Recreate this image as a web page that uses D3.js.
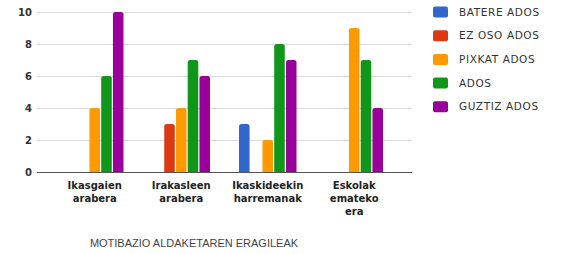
<!DOCTYPE html>
<html><head><meta charset="utf-8">
<script src="https://cdn.jsdelivr.net/npm/d3@7"></script>
<style>
html,body{margin:0;padding:0;background:#fff;}
svg{display:block;}
</style></head>
<body>
<svg id="chart" width="570" height="254"></svg>
<script>
const categories = ["Ikasgaien arabera", "Irakasleen arabera", "Ikaskideekin harremanak", "Eskolak ematekoera"];
const tickLabelLines = [["Ikasgaien","arabera"],["Irakasleen","arabera"],["Ikaskideekin","harremanak"],["Eskolak","emateko","era"]];
const seriesNames = ["BATERE ADOS","EZ OSO ADOS","PIXKAT ADOS","ADOS","GUZTIZ ADOS"];
const seriesColors = ["#3366cc","#dc3912","#ff9900","#109618","#990099"];
const bateREAdos = [0,0,3,0];
const ezOsoAdos = [0,3,0,0];
const pixkatAdos = [4,4,2,9];
const ados = [6,7,8,7];
const guztizAdos = [10,6,7,4];
const seriesValues = [bateREAdos, ezOsoAdos, pixkatAdos, ados, guztizAdos];
const yTicks = [0,2,4,6,8,10];
const axisTitle = "MOTIBAZIO ALDAKETAREN ERAGILEAK";

const comic = "'DejaVu Sans',sans-serif";
const svg = d3.select("#chart");
const plotL = 37, plotR = 412, plotT = 12, plotB = 172;

const y = d3.scaleLinear().domain([0,10]).range([plotB, plotT]);
const x0 = d3.scaleBand().domain(categories).range([51.5, 397.5]).padding(0);
const x1 = d3.scaleBand().domain(seriesNames).range([14.5, 72]).paddingInner(0.1).paddingOuter(0);

svg.append("g").selectAll("line").data(yTicks.filter(d=>d>0)).join("line")
  .attr("x1", plotL).attr("x2", plotR)
  .attr("y1", d=>y(d)+0.5).attr("y2", d=>y(d)+0.5)
  .attr("stroke", "#d9d9d9").attr("stroke-width", 1);

svg.append("g").selectAll("text").data(yTicks).join("text")
  .attr("x", 32).attr("y", d=>y(d)).attr("dy","0.35em")
  .attr("text-anchor","end")
  .style("font-family","'DejaVu Sans',sans-serif").style("font-weight","bold")
  .style("font-size","10px").attr("fill","#333")
  .text(d=>d);

function barPath(xp, w, yTop, yBot, r){
  r = Math.min(r, (yBot-yTop), w/2);
  return `M${xp},${yBot}V${yTop+r}Q${xp},${yTop} ${xp+r},${yTop}H${xp+w-r}Q${xp+w},${yTop} ${xp+w},${yTop+r}V${yBot}Z`;
}
const barData = [];
categories.forEach((c,ci)=>seriesNames.forEach((s,si)=>{
  barData.push({c, s, v: seriesValues[si][ci], color: seriesColors[si]});
}));
svg.append("g").selectAll("path").data(barData.filter(d=>d.v>0)).join("path")
  .attr("d", d=>barPath(x0(d.c)+x1(d.s), x1.bandwidth(), y(d.v), y(0), 2.5))
  .attr("fill", d=>d.color);

svg.append("line").attr("x1",plotL).attr("x2",plotR).attr("y1",plotB+0.5).attr("y2",plotB+0.5)
  .attr("stroke","#555").attr("stroke-width",1.2);

const cl = svg.append("g");
categories.forEach((c,i)=>{
  const cx = x0(c)+x0.bandwidth()/2;
  const t = cl.append("text").attr("x", cx).attr("y", 189)
    .attr("text-anchor","middle")
    .style("font-family",comic).style("font-weight","bold").style("font-size","10px").attr("fill","#222");
  tickLabelLines[i].forEach((ln,k)=>{
    t.append("tspan").attr("x", cx).attr("y", 189+k*13).text(ln);
  });
});

svg.append("text").attr("x", 194).attr("y", 247).attr("text-anchor","middle")
  .style("font-family","'Liberation Sans',Arial,sans-serif").style("font-size","11px").attr("fill","#444")
  .text(axisTitle);

const lg = svg.append("g").selectAll("g").data(seriesNames).join("g")
  .attr("transform",(d,i)=>`translate(433,${12+i*23.7})`);
lg.append("rect").attr("x",0).attr("y",-5.5).attr("width",15).attr("height",11).attr("rx",2)
  .attr("fill",(d,i)=>seriesColors[i]);
lg.append("text").attr("x",26).attr("y",0).attr("dy","0.35em")
  .style("font-family",comic).style("font-size","10.5px").style("letter-spacing","0.6px").attr("fill","#333")
  .text(d=>d);
</script>
</body></html>
